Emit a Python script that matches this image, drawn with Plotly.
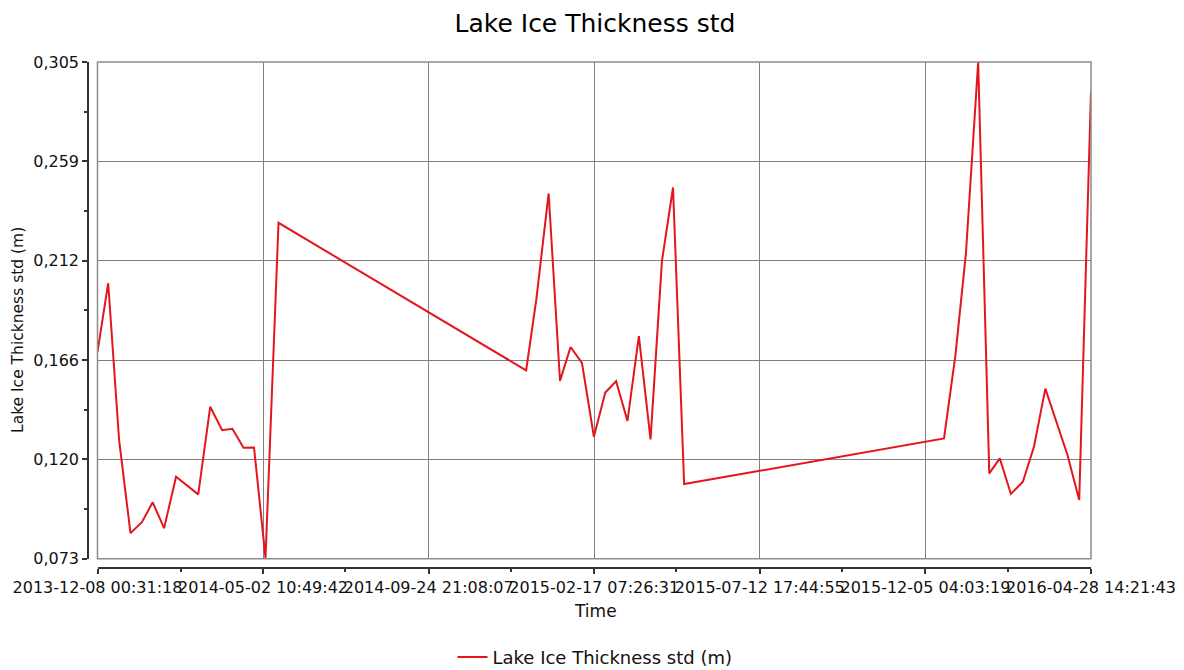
import plotly.graph_objects as go

# ---- data ----
times = [
    "2013-12-08 00:31:18", "2013-12-17 10:00", "2013-12-27 00:00", "2014-01-06 00:00",
    "2014-01-16 00:00", "2014-01-25 12:00", "2014-02-04 12:00", "2014-02-15 00:00",
    "2014-03-06 12:00", "2014-03-17 00:00", "2014-03-27 12:00", "2014-04-05 12:00",
    "2014-04-15 06:00", "2014-04-24 12:00", "2014-05-04 14:00", "2014-05-16 00:00",
    "2014-12-19 12:00", "2014-12-28 12:00", "2015-01-08 06:00", "2015-01-18 06:00",
    "2015-01-27 12:00", "2015-02-06 12:00", "2015-02-17 00:00", "2015-02-27 00:00",
    "2015-03-08 12:00", "2015-03-18 12:00", "2015-03-28 12:00", "2015-04-07 18:00",
    "2015-04-17 18:00", "2015-04-27 12:00", "2015-05-07 06:00", "2015-12-21 12:00",
    "2015-12-31 12:00", "2016-01-09 18:00", "2016-01-20 12:00", "2016-01-30 06:00",
    "2016-02-08 12:00", "2016-02-18 06:00", "2016-02-28 18:00", "2016-03-09 12:00",
    "2016-03-19 12:00", "2016-04-08 00:00", "2016-04-18 06:00", "2016-04-28 14:21:43",
]
ice_std = [
    0.1696, 0.2017, 0.1284, 0.0850, 0.0901, 0.0994, 0.0873, 0.1113,
    0.1031, 0.1440, 0.1331, 0.1337, 0.1249, 0.1250, 0.0733, 0.2299,
    0.1610, 0.1944, 0.2436, 0.1561, 0.1719, 0.1645, 0.1300, 0.1507,
    0.1559, 0.1374, 0.1770, 0.1288, 0.2120, 0.2464, 0.1079, 0.1292,
    0.1680, 0.2156, 0.3050, 0.1129, 0.1199, 0.1033, 0.1090, 0.1253,
    0.1525, 0.1214, 0.1005, 0.2915,
]
x_tick_vals = [
    "2013-12-08 00:31:18", "2014-05-02 10:49:42", "2014-09-24 21:08:07",
    "2015-02-17 07:26:31", "2015-07-12 17:44:55", "2015-12-05 04:03:19",
    "2016-04-28 14:21:43",
]
x_tick_text = [
    "2013-12-08 00:31:18", "2014-05-02 10:49:42", "2014-09-24 21:08:07",
    "2015-02-17 07:26:31", "2015-07-12 17:44:55", "2015-12-05 04:03:19",
    "2016-04-28 14:21:43",
]
x_minor_vals = [
    "2014-02-19 05:40:30", "2014-07-13 15:58:54", "2014-12-06 02:17:19",
    "2015-04-30 12:35:43", "2015-09-22 22:54:07", "2016-02-15 09:12:31",
]
y_tick_vals = [0.073, 0.1194, 0.1658, 0.2122, 0.2586, 0.305]
y_tick_text = ["0,073", "0,120", "0,166", "0,212", "0,259", "0,305"]
y_minor_vals = [0.0962, 0.1426, 0.1890, 0.2354, 0.2818]

FONT = "DejaVu Sans"
RED = "rgb(226,22,28)"

fig = go.Figure()
fig.add_trace(go.Scatter(
    x=times, y=ice_std, mode="lines",
    name="Lake Ice Thickness std (m)",
    line=dict(color=RED, width=2),
))

# page body has an 8px default margin; work in screen pixels and subtract it
OFF = 8
W, H = 1184 - OFF, 670 - OFF
AX_L, AX_B = 88, 568.5          # screen px of y-axis line / x-axis line
PL_L, PL_R, PL_T, PL_B = 97.5, 1091, 61.5, 559.3
ml = AX_L - OFF
mt = PL_T - OFF
mr = W - (PL_R - OFF)
mb = H - (AX_B - OFF)
pw = W - ml - mr
ph = H - mt - mb


def px_x(sx):
    return (sx - OFF - ml) / pw


def px_y(sy):
    return ((H - mb) - (sy - OFF)) / ph


fig.update_layout(
    width=W, height=H,
    margin=dict(l=ml, r=mr, t=mt, b=mb, pad=0, autoexpand=False),
    paper_bgcolor="white", plot_bgcolor="white",
    font=dict(family=FONT, size=16, color="black"),
    title=dict(text="Lake Ice Thickness std", x=px_x(595), xref="paper", xanchor="center",
               y=1 - (23 - OFF) / H, yanchor="middle",
               font=dict(family=FONT, size=25, color="black")),
    showlegend=True,
    legend=dict(orientation="h", x=px_x(595), xanchor="center", y=px_y(658), yanchor="middle",
                font=dict(family=FONT, size=18, color="#111"), bgcolor="rgba(0,0,0,0)"),
    xaxis=dict(
        type="date",
        domain=[px_x(PL_L), 1],
        range=[x_tick_vals[0], x_tick_vals[-1]],
        anchor="free", position=0, automargin=False,
        tickmode="array", tickvals=x_tick_vals, ticktext=x_tick_text,
        ticks="outside", ticklen=5, tickwidth=1.5, tickcolor="#333",
        minor=dict(tickmode="array", tickvals=x_minor_vals, ticks="outside", ticklen=3,
                   tickwidth=1.5, tickcolor="#333", showgrid=False),
        showline=True, linecolor="#333", linewidth=1.5,
        showgrid=True, gridcolor="#808080", gridwidth=1,
        zeroline=False,
        tickfont=dict(family=FONT, size=16, color="#111"),
        tickangle=0,
    ),
    yaxis=dict(
        domain=[px_y(PL_B), 1],
        range=[0.073, 0.305],
        anchor="free", position=0, automargin=False,
        tickmode="array", tickvals=y_tick_vals, ticktext=y_tick_text,
        ticks="outside", ticklen=5, tickwidth=1.5, tickcolor="#333",
        minor=dict(tickmode="array", tickvals=y_minor_vals, ticks="outside", ticklen=3,
                   tickwidth=1.5, tickcolor="#333", showgrid=False),
        showline=True, linecolor="#333", linewidth=1.5,
        showgrid=True, gridcolor="#808080", gridwidth=1,
        zeroline=False,
        tickfont=dict(family=FONT, size=16, color="#111"),
    ),
    shapes=[dict(type="rect", xref="x domain", yref="y domain", x0=0, x1=1, y0=0, y1=1,
                 line=dict(color="#8c8c8c", width=1.5), fillcolor="rgba(0,0,0,0)", layer="above")],
    annotations=[
        dict(text="Time", xref="paper", yref="paper", x=px_x(595), y=px_y(612),
             xanchor="center", yanchor="middle", showarrow=False,
             font=dict(family=FONT, size=17, color="#111")),
        dict(text="Lake Ice Thickness std (m)", xref="paper", yref="paper",
             x=px_x(18), y=px_y(330), textangle=-90,
             xanchor="center", yanchor="middle", showarrow=False,
             font=dict(family=FONT, size=15.5, color="#111")),
    ],
)

fig.write_html("out.html")
